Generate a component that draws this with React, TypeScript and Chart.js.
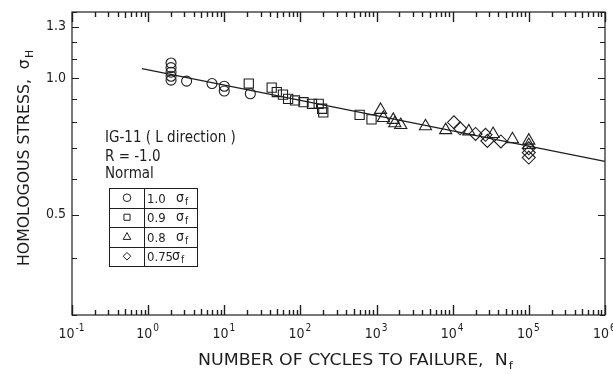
import React, { useEffect, useRef } from 'react';
import { Chart, registerables } from 'chart.js';

Chart.register(...registerables);

// ---------- data ----------
const circleX = [2, 2, 2, 2, 2, 3.2, 6.9, 10, 10, 22];
const circleY = [1.08, 1.055, 1.031, 1.01, 0.99, 0.985, 0.973, 0.96, 0.937, 0.924];

const squareX = [21, 42, 49, 59, 69, 85, 110, 142, 174, 193, 200, 600, 860];
const squareY = [0.973, 0.953, 0.932, 0.92, 0.9, 0.893, 0.885, 0.878, 0.878, 0.856, 0.84, 0.83, 0.811];

const triangleX = [1130, 1230, 1660, 1740, 2080, 4400, 8100, 16300, 34000, 61000, 100000, 100000];
const triangleY = [0.851, 0.817, 0.809, 0.795, 0.788, 0.783, 0.768, 0.763, 0.753, 0.733, 0.728, 0.712];

const diamondX = [10400, 12500, 20000, 27000, 28600, 43000, 100000, 100000, 100000];
const diamondY = [0.799, 0.775, 0.753, 0.75, 0.727, 0.725, 0.7, 0.685, 0.668];

const fitX = [0.83, 1000000];
const fitY = [1.05, 0.655];

const xTickValues = [0.1, 1, 10, 100, 1000, 10000, 100000, 1000000];
const xTickExponents = ['-1', '0', '1', '2', '3', '4', '5', '6'];
const xMinorMultipliers = [2, 3, 4, 5, 6, 7, 8, 9];
const yTickValues = [0.5, 1.0, 1.3];
const yTickLabels = ['0.5', '1.0', '1.3'];
const yMinorTicks = [0.3, 0.4, 0.5, 0.6, 0.7, 0.8, 0.9, 1.0, 1.1, 1.2, 1.3, 1.4];

const legendLabels = ['1.0', '0.9', '0.8', '0.75'];
const legendShapes = ['circle', 'rect', 'triangle', 'rectRot'];
const noteLines = ['IG-11 ( L direction )', 'R = -1.0', 'Normal'];
const xTitle = 'NUMBER OF CYCLES TO FAILURE,  N';
const xTitleSub = 'f';
const yTitle = 'HOMOLOGOUS STRESS,  \u03C3';
const yTitleSub = 'H';

const INK = '#1e1e1e';
const FONT = "'Liberation Sans Narrow', 'DejaVu Sans Condensed', 'Liberation Sans', sans-serif";

function pts(xs: number[], ys: number[]) {
  return xs.map((x, i) => ({ x, y: ys[i] }));
}

function drawShape(ctx: CanvasRenderingContext2D, shape: string, x: number, y: number, r: number) {
  ctx.beginPath();
  if (shape === 'circle') {
    ctx.arc(x, y, r, 0, Math.PI * 2);
  } else if (shape === 'rect') {
    ctx.rect(x - r * 0.8, y - r * 0.8, r * 1.6, r * 1.6);
  } else if (shape === 'triangle') {
    ctx.moveTo(x, y - r * 1.1);
    ctx.lineTo(x + r, y + r * 0.7);
    ctx.lineTo(x - r, y + r * 0.7);
    ctx.closePath();
  } else {
    ctx.moveTo(x, y - r);
    ctx.lineTo(x + r, y);
    ctx.lineTo(x, y + r);
    ctx.lineTo(x - r, y);
    ctx.closePath();
  }
  ctx.stroke();
}

function textSub(ctx: CanvasRenderingContext2D, main: string, sub: string, x: number, y: number, size: number, family = FONT) {
  ctx.font = `${size}px ${family}`;
  ctx.fillText(main, x, y);
  const w = ctx.measureText(main).width;
  ctx.font = `${Math.round(size * 0.7)}px ${family}`;
  ctx.fillText(sub, x + w + 1, y + size * 0.22);
  return w + 1 + ctx.measureText(sub).width;
}

// draws main+subscript stretched horizontally to a target width
function fittedSub(ctx: CanvasRenderingContext2D, main: string, sub: string, x: number, y: number, size: number, target: number, family: string) {
  ctx.font = `${size}px ${family}`;
  const w1 = ctx.measureText(main).width;
  ctx.font = `${Math.round(size * 0.7)}px ${family}`;
  const w2 = ctx.measureText(sub).width;
  const k = target / (w1 + 1 + w2);
  ctx.save();
  ctx.translate(x, y);
  ctx.scale(k, 1);
  textSub(ctx, main, sub, 0, 0, size, family);
  ctx.restore();
}

const decorPlugin = {
  id: 'decor',
  afterDraw(chart: any) {
    const ctx: CanvasRenderingContext2D = chart.ctx;
    const ca = chart.chartArea;
    const left = Math.round(ca.left);
    const right = Math.round(ca.right);
    const top = Math.round(ca.top);
    const bottom = Math.round(ca.bottom);
    const xs = chart.scales.x;
    const ys = chart.scales.y;
    ctx.save();
    ctx.strokeStyle = INK;
    ctx.fillStyle = INK;
    ctx.lineWidth = 1.2;
    ctx.strokeRect(left, top, right - left, bottom - top);

    // x ticks (inward, top and bottom)
    const xTickPos: { px: number; len: number }[] = [];
    xTickValues.forEach((dec) => {
      xTickPos.push({ px: xs.getPixelForValue(dec), len: 10 });
      if (dec < 1000000) {
        xMinorMultipliers.forEach((m) => {
          xTickPos.push({ px: xs.getPixelForValue(dec * m), len: m === 5 ? 6 : 5 });
        });
      }
    });
    ctx.lineWidth = 1.4;
    ctx.beginPath();
    xTickPos.forEach(({ px, len }) => {
      const xx = Math.round(px) + 0.5;
      ctx.moveTo(xx, bottom);
      ctx.lineTo(xx, bottom - len);
      ctx.moveTo(xx, top);
      ctx.lineTo(xx, top + len);
    });
    ctx.stroke();

    // y ticks (inward, left and right)
    yMinorTicks.forEach((v) => {
      const yy = Math.round(ys.getPixelForValue(v));
      const len = yTickValues.includes(v) ? 7 : 5;
      ctx.fillRect(left, yy, len, 1);
      ctx.fillRect(right - len, yy, len, 1);
    });

    // x tick labels: 10 with raised exponent
    ctx.textBaseline = 'alphabetic';
    ctx.textAlign = 'left';
    xTickValues.forEach((v, i) => {
      const px = xs.getPixelForValue(v);
      ctx.font = `14px ${FONT}`;
      const wb = ctx.measureText('10').width;
      ctx.font = `10px ${FONT}`;
      const we = ctx.measureText(xTickExponents[i]).width;
      const x0 = px - (wb + we) / 2 - 1;
      ctx.font = `14px ${FONT}`;
      ctx.fillText('10', x0, 338);
      ctx.font = `10px ${FONT}`;
      ctx.fillText(xTickExponents[i], x0 + wb + 1, 331);
    });

    // annotation
    ctx.font = `15px ${FONT}`;
    ctx.fillText(noteLines[0], 105, 142);
    ctx.fillText(noteLines[1], 105, 161);
    ctx.fillText(noteLines[2], 105, 178);

    // legend table
    const tL = 109, tR = 197, tD = 144, tT = 188, tB = 266;
    const rowH = (tB - tT) / 4;
    ctx.lineWidth = 1;
    ctx.strokeRect(tL + 0.5, tT + 0.5, tR - tL, tB - tT);
    ctx.beginPath();
    ctx.moveTo(tD + 0.5, tT);
    ctx.lineTo(tD + 0.5, tB);
    for (let i = 1; i < 4; i++) {
      const yy = Math.round(tT + rowH * i) + 0.5;
      ctx.moveTo(tL, yy);
      ctx.lineTo(tR, yy);
    }
    ctx.stroke();
    legendLabels.forEach((lab, i) => {
      const cy = tT + rowH * (i + 0.5);
      drawShape(ctx, legendShapes[i], 127, cy, 3.8);
      ctx.font = `13px ${FONT}`;
      ctx.fillText(lab, 147, cy + 5);
      const sx = lab.length > 3 ? 172 : 176;
      textSub(ctx, '\u03C3', 'f', sx, cy + 4, 14);
    });

    // axis titles
    fittedSub(ctx, xTitle, xTitleSub, 198, 365, 16, 315, FONT);

    ctx.translate(29, 158);
    ctx.rotate(-Math.PI / 2);
    fittedSub(ctx, yTitle, yTitleSub, -108, 0, 16, 216, FONT);
    ctx.restore();
  },
};

export default function App() {
  const ref = useRef<HTMLCanvasElement>(null);
  useEffect(() => {
    if (!ref.current) return;
    const common = { borderColor: INK, backgroundColor: 'rgba(0,0,0,0)', borderWidth: 1.1, showLine: false };
    const chart = new Chart(ref.current, {
      type: 'scatter',
      data: {
        datasets: [
          {
            data: pts(fitX, fitY),
            showLine: true,
            borderColor: INK,
            borderWidth: 1.2,
            pointRadius: 0,
            order: 5,
          } as any,
          { ...common, data: pts(circleX, circleY), pointStyle: 'circle', pointRadius: 5 },
          { ...common, data: pts(squareX, squareY), pointStyle: 'rect', pointRadius: 6.5 },
          { ...common, data: pts(triangleX, triangleY), pointStyle: 'triangle', pointRadius: 7 },
          { ...common, data: pts(diamondX, diamondY), pointStyle: 'rectRot', pointRadius: 6.5 },
        ],
      },
      options: {
        animation: false,
        responsive: false,
        devicePixelRatio: 1,
        layout: { padding: { left: 0, right: 8, top: 12, bottom: 0 } },
        plugins: { legend: { display: false }, tooltip: { enabled: false } },
        scales: {
          x: {
            type: 'logarithmic',
            min: 0.1,
            max: 1000000,
            grid: { display: false, drawTicks: false },
            border: { display: false },
            afterBuildTicks: (s: any) => {
              s.ticks = xTickValues.map((v) => ({ value: v }));
            },
            afterFit: (s: any) => {
              s.height = 59;
              s.paddingLeft = 0;
              s.paddingRight = 0;
            },
            ticks: { display: false },
          },
          y: {
            type: 'logarithmic',
            min: 0.3,
            max: 1.4,
            grid: { display: false, drawTicks: false },
            border: { display: false },
            afterBuildTicks: (s: any) => {
              s.ticks = yTickValues.map((v) => ({ value: v }));
            },
            afterFit: (s: any) => {
              s.width = 72;
              s.paddingTop = 0;
              s.paddingBottom = 0;
            },
            ticks: {
              autoSkip: false,
              padding: 6,
              color: INK,
              font: { family: FONT, size: 14 },
              callback: (v: any) => {
                const i = yTickValues.findIndex((t) => Math.abs(t - Number(v)) < 1e-6);
                return i >= 0 ? yTickLabels[i] : '';
              },
            },
          },
        },
      },
      plugins: [decorPlugin],
    });
    return () => chart.destroy();
  }, []);
  return (
    <div style={{ position: 'fixed', left: 0, top: 0, width: 613, height: 374, background: '#fff' }}>
      <canvas ref={ref} width={613} height={374} style={{ width: 613, height: 374 }} />
    </div>
  );
}
